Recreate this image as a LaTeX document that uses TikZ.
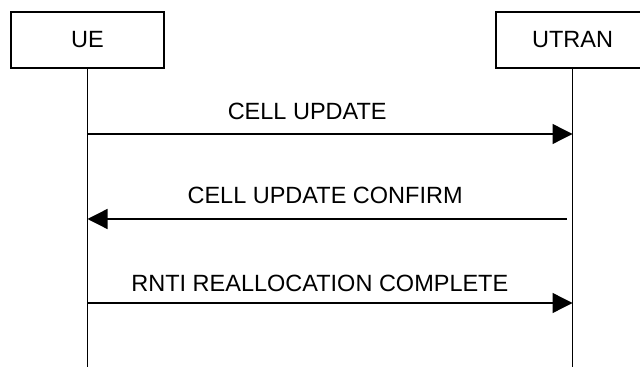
\documentclass[tikz,border=0pt]{standalone}
\usepackage{fontspec}
\setmainfont{Liberation Sans}
\usepackage{tikz}
\usetikzlibrary{arrows.meta,calc,positioning}
\tikzset{%
	entity/.style   = {draw, rectangle, line width=0.65pt, minimum width=76.5pt, minimum height=28pt, inner sep=0pt}, % Peer
	waypoint/.style = {coordinate}, % Point on a lifeline
	lifeline/.style = {line width=0.65pt},
	msg/.style      = {line width=0.65pt, ->},
	msglabel/.style = {anchor=base, inner sep=0pt},
}

\begin{document}
\begin{tikzpicture}[node distance=47pt,>={Triangle[length=10pt,width=10pt]},font=\fontsize{11.75}{14}\selectfont]
	\useasboundingbox (0,0) rectangle (320pt,-183.5pt);
	\node [entity] (ue) at (43.75pt,-20pt) {UE};
	\node [entity] (utran) [right of=ue,node distance=242.5pt] {UTRAN};
	\node [waypoint] (ue1) [below of=ue] {};
	\node [waypoint] (ue2) [below of=ue,node distance=89.5pt] {};
	\node [waypoint] (ue3) [below of=ue,node distance=131.5pt] {};
	\node [waypoint] (ueend) [below of=ue,node distance=163.5pt] {};
	\node [waypoint] (utran1) [below of=utran] {};
	\node [waypoint] (utran2) [below of=utran,node distance=89.5pt] {};
	\node [waypoint] (utran3) [below of=utran,node distance=131.5pt] {};
	\node [waypoint] (utranend) [below of=utran,node distance=163.5pt] {};
	
	\draw[lifeline] (ue) -- (ueend);
	\draw[lifeline] (utran) -- (utranend);
	\draw[msg] (ue1) -- node[msglabel,pos=0.453,yshift=7pt] {CELL UPDATE} (utran1);
	\draw[msg] ([xshift=-3pt]utran2) -- node[msglabel,pos=0.504,yshift=7.5pt] {CELL UPDATE CONFIRM} (ue2);
	\draw[msg] (ue3) -- node[msglabel,pos=0.479,yshift=5.5pt] {RNTI REALLOCATION COMPLETE} (utran3);
	\end{tikzpicture}
\end{document}
